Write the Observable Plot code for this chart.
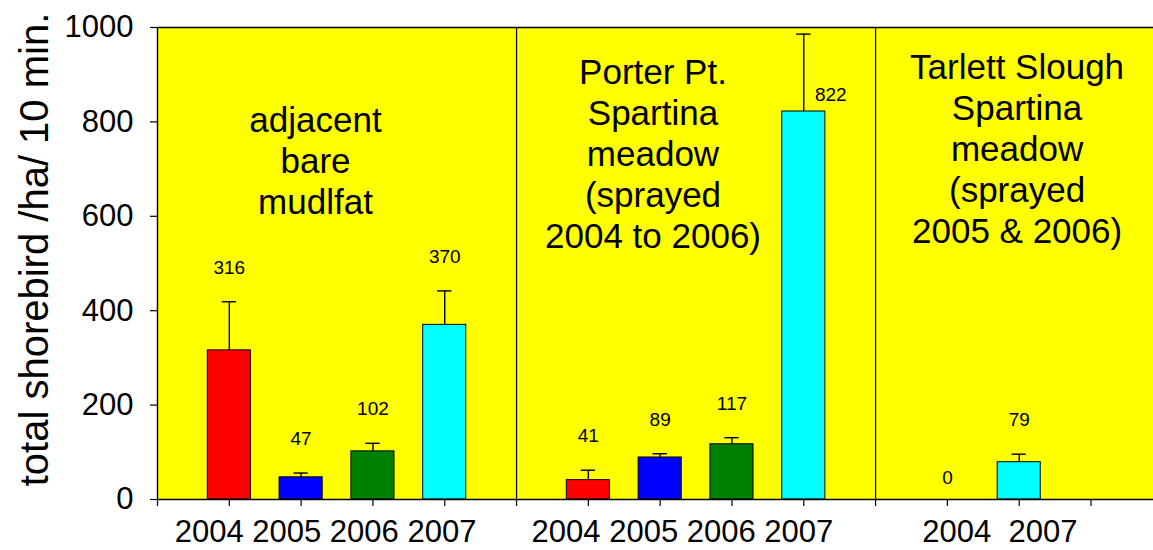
<!DOCTYPE html>
<html>
<head>
<meta charset="utf-8">
<script src="https://cdn.jsdelivr.net/npm/d3@7"></script>
<script src="https://cdn.jsdelivr.net/npm/@observablehq/plot@0.6"></script>
<style>
  html, body { margin: 0; padding: 0; background: #fff; color: #000; }
  #chart { font-family: "Liberation Sans", Arial, sans-serif; }
</style>
</head>
<body>
<div id="chart"></div>
<script>
// ---------------- data ----------------
const yTitle = "total shorebird /ha/ 10 min.";
const panelTitles = [
  "adjacent\nbare\nmudlfat",
  "Porter Pt.\nSpartina\nmeadow\n(sprayed\n2004 to 2006)",
  "Tarlett Slough\nSpartina\nmeadow\n(sprayed\n2005 & 2006)"
];
const mudflatYears = ["2004", "2005", "2006", "2007"];
const mudflatValues = [316, 47, 102, 370];
const mudflatErrors = [103, 9, 17, 72];
const porterYears = ["2004", "2005", "2006", "2007"];
const porterValues = [41, 89, 117, 822];
const porterErrors = [21, 8, 14, 164];
const tarlettYears = ["2004", "2007"];
const tarlettValues = [0, 79];
const tarlettErrors = [0, 17];
const yTicks = [0, 200, 400, 600, 800, 1000];
const yearColors = { "2004": "#ff0000", "2005": "#0000ff", "2006": "#008000", "2007": "#00ffff" };

// ---------------- layout (not data) ----------------
const slotsPerPanel = 5;          // separator + 4 tick slots
const xMax = 13.87;               // visible slots to the right edge
const barHalf = 0.3;              // half bar width in slots
const capHalf = 0.1;              // half error cap width in slots
const xLabelShift = [-0.16, -0.19, 0.23];
const titlePos = [{x: 2.2, y: 840}, {x: 6.9, y: 941}, {x: 11.97, y: 953}];

const panels = [
  {years: mudflatYears, values: mudflatValues, errors: mudflatErrors},
  {years: porterYears, values: porterValues, errors: porterErrors},
  {years: tarlettYears, values: tarlettValues, errors: tarlettErrors}
];

const rows = [];
panels.forEach((p, pi) => {
  p.years.forEach((yr, i) => {
    rows.push({panel: pi, year: yr, slot: pi * slotsPerPanel + i + 1, value: p.values[i], err: p.errors[i]});
  });
});
const maxValue = d3.max(rows, d => d.value);

const xLabels = panels.map((p, pi) => {
  const slots = p.years.map((_, i) => pi * slotsPerPanel + i + 1);
  return {text: p.years.join(p.years.length < 4 ? "  " : " "), slot: d3.mean(slots) + xLabelShift[pi]};
});
const titles = panelTitles.map((t, i) => ({text: t, ...titlePos[i]}));
const separators = [1, 2].map(i => i * slotsPerPanel);
const xTicks = d3.range(0, Math.floor(xMax) + 1);

const chart = Plot.plot({
  width: 1153,
  height: 550,
  marginLeft: 157,
  marginRight: 0,
  marginTop: 27,
  marginBottom: 51,
  style: {fontFamily: '"Liberation Sans", Arial, sans-serif', background: "#fff", color: "#000"},
  x: {type: "linear", domain: [0, xMax], axis: null},
  y: {domain: [0, 1000], axis: null},
  marks: [
    Plot.frame({fill: "#ffff00", stroke: null}),
    Plot.ruleX(separators, {x: d => d, y1: 0, y2: 1000, stroke: "#000", strokeWidth: 1.2}),
    Plot.rectY(rows.filter(d => d.value > 0), {
      x1: d => d.slot - barHalf, x2: d => d.slot + barHalf, y1: 0, y2: "value",
      fill: d => yearColors[d.year], stroke: "#000", strokeWidth: 1
    }),
    Plot.ruleX(rows.filter(d => d.err > 0), {x: "slot", y1: "value", y2: d => d.value + d.err, stroke: "#000", strokeWidth: 1.4}),
    Plot.ruleY(rows.filter(d => d.err > 0), {x1: d => d.slot - capHalf, x2: d => d.slot + capHalf, y: d => d.value + d.err, stroke: "#000", strokeWidth: 1.4}),
    // value labels
    Plot.text(rows.filter(d => d.value !== maxValue && d.value > 0), {
      x: "slot", y: d => d.value + d.err, text: d => String(d.value),
      dy: -34, fontSize: 19, lineAnchor: "middle", fill: "#000"
    }),
    Plot.text(rows.filter(d => d.value === 0), {
      x: "slot", y: d => d.value, text: d => String(d.value),
      dy: -22, fontSize: 19, lineAnchor: "middle", fill: "#000"
    }),
    Plot.text(rows.filter(d => d.value === maxValue), {
      x: "slot", y: "value", text: d => String(d.value),
      dx: 27, dy: -17, fontSize: 19, lineAnchor: "middle", fill: "#000"
    }),
    // panel titles
    Plot.text(titles, {x: "x", y: "y", text: "text", fontSize: 35, lineHeight: 1.17, lineAnchor: "top", fill: "#000"}),
    // axis lines
    Plot.ruleY([0, 1000], {stroke: "#000", strokeWidth: 1.4}),
    Plot.ruleX([0], {y1: 0, y2: 1000, stroke: "#000", strokeWidth: 1.4}),
    // ticks
    Plot.axisY(yTicks, {anchor: "left", tickSize: 7, tickPadding: 17, fontSize: 31, tickFormat: d => String(d), label: null, stroke: "#000", strokeWidth: 1.2}),
    Plot.axisX(xTicks, {anchor: "bottom", tickSize: 7, tickFormat: () => "", label: null, stroke: "#000", strokeWidth: 1.2}),
    // x labels
    Plot.text(xLabels, {x: "slot", y: d => 0, text: "text", fontSize: 31, lineAnchor: "middle", dy: 33, fill: "#000"}),
    // y title
    Plot.text([yTitle], {text: d => d, frameAnchor: "left", rotate: -90, dx: -122, dy: -14, fontSize: 40, textAnchor: "middle", lineAnchor: "middle", fill: "#000"})
  ]
});
document.getElementById("chart").appendChild(chart);
</script>
</body>
</html>
